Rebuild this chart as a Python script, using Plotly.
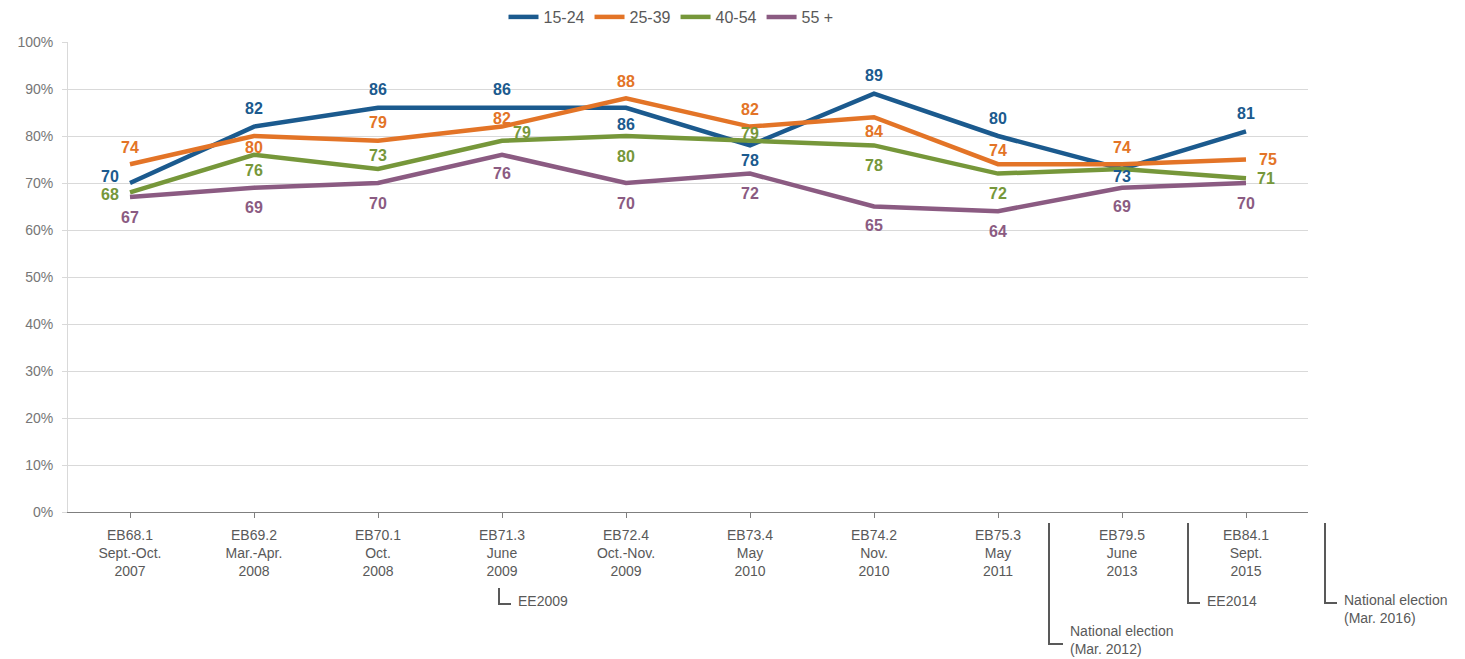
import plotly.graph_objects as go

categories = ["EB68.1<br>Sept.-Oct.<br>2007", "EB69.2<br>Mar.-Apr.<br>2008", "EB70.1<br>Oct.<br>2008",
              "EB71.3<br>June<br>2009", "EB72.4<br>Oct.-Nov.<br>2009", "EB73.4<br>May<br>2010",
              "EB74.2<br>Nov.<br>2010", "EB75.3<br>May<br>2011", "EB79.5<br>June<br>2013",
              "EB84.1<br>Sept.<br>2015"]
series_names = ["15-24", "25-39", "40-54", "55 +"]
v_15_24 = [70, 82, 86, 86, 86, 78, 89, 80, 73, 81]
v_25_39 = [74, 80, 79, 82, 88, 82, 84, 74, 74, 75]
v_40_54 = [68, 76, 73, 79, 80, 79, 78, 72, 73, 71]
v_55_plus = [67, 69, 70, 76, 70, 72, 65, 64, 69, 70]
values = [v_15_24, v_25_39, v_40_54, v_55_plus]

colors = ["#1b5a8e", "#e37427", "#76973a", "#8b5b82"]

# label placement offsets (xshift, yshift in px; None = no label)
offsets = [
    [(-20, 7), (0, 18), (0, 18), (0, 18), (0, -17), (0, -15), (0, 18), (0, 18), (0, -8), (0, 18)],
    [(0, 17), (0, -11), (0, 18), (0, 8), (0, 17), (0, 17), (0, -14), (0, 14), (0, 17), (22, 0)],
    [(-20, -2), (0, -16), (0, 13), (20, 8), (0, -20), (0, 7), (0, -20), (0, -20), None, (20, 0)],
    [(0, -20), (0, -20), (0, -20), (0, -19), (0, -20), (0, -20), (0, -19), (0, -20), (0, -19), (0, -20)],
]

fig = go.Figure()
for name, vals, col in zip(series_names, values, colors):
    fig.add_trace(go.Scatter(x=list(range(len(categories))), y=vals, name=name, mode="lines",
                             line=dict(color=col, width=4.5), hoverinfo="skip"))

annotations = []
for vals, col, offs in zip(values, colors, offsets):
    for i, (v, o) in enumerate(zip(vals, offs)):
        if o is None:
            continue
        annotations.append(dict(x=i, y=v, xref="x", yref="y", text=str(v), showarrow=False,
                                xshift=o[0], yshift=o[1],
                                font=dict(family="Liberation Sans, Arial", size=16, color=col,
                                          weight="bold")))

# plot area pixel geometry
L, R, T, B = 68, 1308, 42, 512
def px(x):
    return (x - L) / (R - L)
def py(y):
    return (B - y) / (B - T)

gray = "#595959"
shapes = []
notes = [
    # (x_vertical, y_top, y_bottom, x_end, text, text_y)
    (499, 588, 604, 511, "EE2009", 601),
    (1049, 523, 644, 1063, "National election<br>(Mar. 2012)", 640),
    (1188, 523, 603, 1200, "EE2014", 601),
    (1325, 523, 603, 1337, "National election<br>(Mar. 2016)", 609),
]
for xv, yt, yb, xe, txt, ty in notes:
    shapes.append(dict(type="path", xref="paper", yref="paper",
                       path=f"M {px(xv)} {py(yt)} L {px(xv)} {py(yb)} L {px(xe)} {py(yb)}",
                       line=dict(color=gray, width=2)))
    annotations.append(dict(x=px(xe + 5), y=py(ty), xref="paper", yref="paper", text=txt,
                            showarrow=False, xanchor="left", yanchor="middle", align="left",
                            font=dict(family="Liberation Sans, Arial", size=14, color=gray)))

fig.update_layout(
    width=1465, height=659,
    margin=dict(l=L, r=1465 - R, t=T, b=659 - B, autoexpand=False),
    paper_bgcolor="white", plot_bgcolor="white",
    font=dict(family="Liberation Sans, Arial", size=14, color=gray),
    showlegend=True,
    legend=dict(orientation="h", x=px(671), xanchor="center", y=py(17), yanchor="middle",
                font=dict(size=16, color=gray), itemwidth=30, tracegroupgap=0),
    xaxis=dict(range=[-0.5, len(categories) - 0.5], tickmode="array",
               tickvals=list(range(len(categories))), ticktext=categories,
               showgrid=False, showline=True, linecolor="#7f7f7f", linewidth=1,
               ticks="outside", ticklen=5, tickcolor="#7f7f7f", automargin=False,
               ticklabelstandoff=5,
               tickfont=dict(size=14, color=gray), zeroline=False, fixedrange=True),
    yaxis=dict(range=[0, 100], tickvals=list(range(0, 101, 10)),
               ticktext=[f"{v}%" for v in range(0, 101, 10)],
               showgrid=True, gridcolor="#d9d9d9", gridwidth=1, automargin=False,
               showline=True, linecolor="#d9d9d9", ticks="outside", ticklen=5,
               tickcolor="#d9d9d9", tickfont=dict(size=14, color="#767676"),
               ticklabelstandoff=6, zeroline=False, fixedrange=True),
    annotations=annotations,
    shapes=shapes,
)
fig.update_xaxes(tickson="boundaries")

fig.write_html("out.html", config={"displayModeBar": False},
               post_script="document.body.style.margin='0';document.body.style.overflow='hidden';")
